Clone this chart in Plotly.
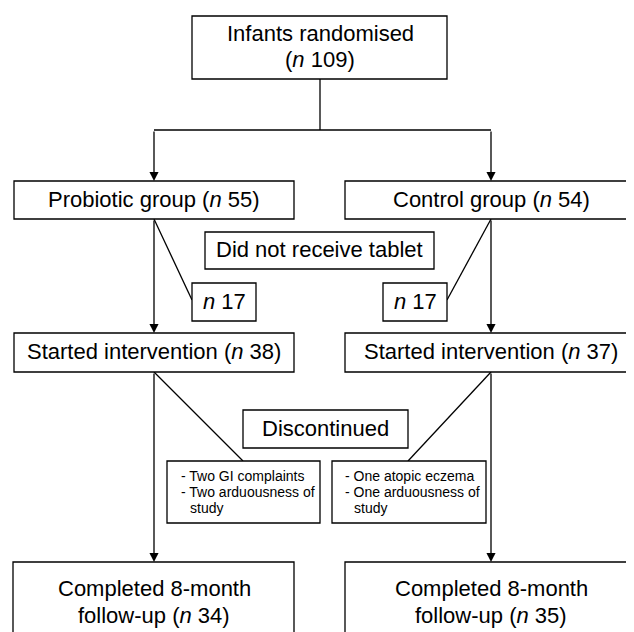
import plotly.graph_objects as go

# ---- data (flow counts and labels) ----
n_randomised = 109
group_names = ["Probiotic group", "Control group"]
group_n = [55, 54]
no_tablet_n = [17, 17]
started_n = [38, 37]
completed_n = [34, 35]
reasons = [
    ["- Two GI complaints", "- Two arduousness of", "study"],
    ["- One atopic eczema", "- One arduousness of", "study"],
]

FONT = "Liberation Sans, Arial, Helvetica, sans-serif"
LW = 1.3
OFF = 8  # page body margin compensation
W, H = 634 - OFF, 632 - OFF
DY = -2  # text vertical nudge

fig = go.Figure()
shapes = []
annots = []

def box(x0, y0, x1, y1):
    shapes.append(dict(type="rect", xref="x", yref="y", x0=x0, y0=y0, x1=x1, y1=y1,
                       line=dict(color="black", width=LW), fillcolor="white", layer="above"))

def line(x0, y0, x1, y1):
    shapes.append(dict(type="line", xref="x", yref="y", x0=x0, y0=y0, x1=x1, y1=y1,
                       line=dict(color="black", width=LW), layer="below"))

def arrow(x, y0, y1):
    annots.append(dict(x=x, y=y1, ax=x, ay=y0, xref="x", yref="y", axref="x", ayref="y",
                       text="", showarrow=True, arrowhead=2, arrowsize=1.4, arrowwidth=LW,
                       arrowcolor="black", standoff=0, startstandoff=0))

def label(x, y, text, size=22, anchor="center"):
    annots.append(dict(x=x, y=y + DY, xref="x", yref="y", text=text, showarrow=False,
                       font=dict(family=FONT, size=size, color="black"),
                       xanchor=anchor, yanchor="middle"))

cols = [154, 491]

# top box
box(192, 16, 447, 79)
label(320, 35, "Infants randomised")
label(320, 61, f"(<i>n</i> {n_randomised})")
line(320, 79, 320, 130)
line(cols[0], 130, cols[1], 130)

# group boxes
box(14, 181, 294, 219)
box(345, 181, 660, 219)
for i, c in enumerate(cols):
    arrow(c, 130, 181)
    label(c, 201, f"{group_names[i]} (<i>n</i> {group_n[i]})")

# did not receive tablet
box(205, 232, 434, 269)
label(319.5, 251, "Did not receive tablet")
line(cols[0], 219, 192, 300)
line(cols[1], 219, 447, 300)
box(192, 283, 256, 321)
box(383, 283, 447, 321)
label(224, 303, f"<i>n</i> {no_tablet_n[0]}")
label(415, 303, f"<i>n</i> {no_tablet_n[1]}")

# started intervention
box(14, 333, 294, 372)
box(345, 333, 660, 372)
for i, c in enumerate(cols):
    arrow(c, 219, 333)
    label(c, 353, f"Started intervention (<i>n</i> {started_n[i]})")

# discontinued
line(cols[0], 372, 243, 461)
line(cols[1], 372, 408, 461)
box(243, 410, 408, 448)
label(325.5, 430, "Discontinued")
box(167, 461, 320, 523)
box(332, 461, 486, 523)
rx = [179, 343]
for i in range(2):
    for j, t in enumerate(reasons[i]):
        xx = rx[i] + (9 if j == 2 else 0)
        label(xx, 478 + 16 * j, t, size=14, anchor="left")

# completed
box(13, 562, 294, 660)
box(345, 562, 660, 660)
for i, c in enumerate(cols):
    arrow(c, 372, 562)
    label(c, 590, "Completed 8-month")
    label(c, 617, f"follow-up (<i>n</i> {completed_n[i]})")

fig.update_layout(
    width=W, height=H,
    margin=dict(l=0, r=0, t=0, b=0),
    paper_bgcolor="white", plot_bgcolor="white",
    xaxis=dict(range=[OFF, 634], visible=False, fixedrange=True),
    yaxis=dict(range=[632, OFF], visible=False, fixedrange=True),
    shapes=shapes, annotations=annots, showlegend=False,
)
fig.write_html("out.html")
